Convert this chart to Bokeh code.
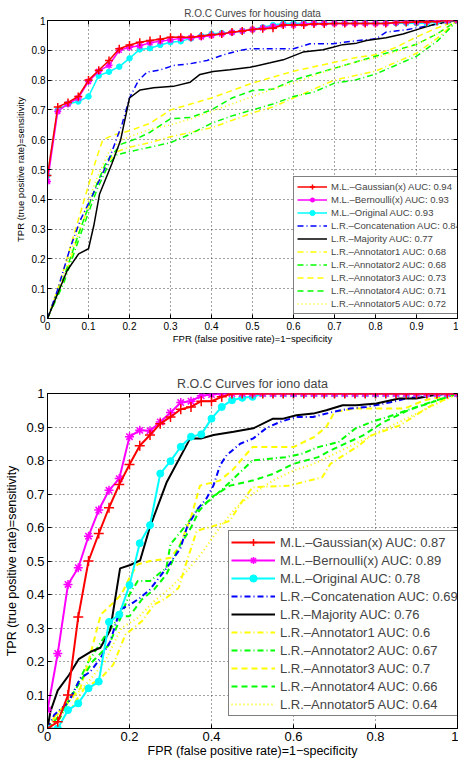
from bokeh.plotting import figure
from bokeh.layouts import column
from bokeh.models import Legend, LegendItem, FixedTicker, Range1d, LinearAxis
from bokeh.embed import file_html
from bokeh.resources import INLINE

FONT = "Liberation Sans"

# ---------------- data ----------------
FPR_STEP = [0, 0.025, 0.05, 0.075, 0.1, 0.125, 0.15, 0.175, 0.2, 0.225, 0.25, 0.275, 0.3, 0.325,
            0.35, 0.375, 0.4, 0.425, 0.45, 0.475, 0.5, 0.525, 0.55, 0.575, 0.6, 0.625, 0.65, 0.675,
            0.7, 0.725, 0.75, 0.775, 0.8, 0.825, 0.85, 0.875, 0.9, 0.925, 0.95, 0.975, 1.0]

TOP_X_TICKS = [0, 0.1, 0.2, 0.3, 0.4, 0.5, 0.6, 0.7, 0.8, 0.9, 1]
BOTTOM_X_TICKS = [0, 0.2, 0.4, 0.6, 0.8, 1]
Y_TICKS = [0, 0.1, 0.2, 0.3, 0.4, 0.5, 0.6, 0.7, 0.8, 0.9, 1]

# housing data
H_GAUSS = [0.48, 0.71, 0.725, 0.745, 0.80, 0.833, 0.866, 0.905, 0.918, 0.927, 0.933, 0.937, 0.944,
           0.944, 0.944, 0.948, 0.952, 0.955, 0.961, 0.965, 0.97, 0.972, 0.974, 0.985, 0.985, 0.985,
           0.988, 0.988, 0.99, 0.99, 0.99, 0.99, 0.99, 0.99, 0.993, 0.993, 0.995, 0.995, 0.997, 1.0, 1.0]
H_BERN = [0.46, 0.695, 0.72, 0.74, 0.795, 0.83, 0.85, 0.90, 0.91, 0.915, 0.925, 0.93, 0.935, 0.94,
          0.942, 0.945, 0.95, 0.955, 0.96, 0.965, 0.97, 0.975, 0.98, 0.985, 0.985, 0.988, 0.99, 0.99,
          0.99, 0.99, 0.99, 0.99, 0.99, 0.99, 0.993, 0.995, 0.995, 0.997, 1.0, 1.0, 1.0]
H_ORIG = [0.48, 0.70, 0.72, 0.728, 0.745, 0.815, 0.828, 0.845, 0.873, 0.903, 0.907, 0.918, 0.927,
          0.93, 0.94, 0.948, 0.955, 0.958, 0.96, 0.965, 0.97, 0.977, 0.985, 0.99, 0.991, 0.991, 0.991,
          0.991, 0.991, 0.991, 0.991, 0.991, 0.991, 0.991, 0.991, 0.991, 0.991, 0.991, 0.995, 0.998, 1.0]
H_CONC_X = [0, 0.024, 0.056, 0.08, 0.105, 0.149, 0.182, 0.2, 0.222, 0.243, 0.275, 0.307, 0.348,
            0.389, 0.437, 0.47, 0.494, 0.6, 0.64, 0.696, 0.74, 0.802, 0.826, 0.875, 0.932, 1.0]
H_CONC_Y = [0, 0.094, 0.24, 0.33, 0.40, 0.53, 0.653, 0.74, 0.799, 0.827, 0.834, 0.849, 0.855,
            0.866, 0.888, 0.9, 0.905, 0.905, 0.922, 0.922, 0.93, 0.939, 0.961, 0.969, 0.983, 1.0]
H_MAJ_X = [0, 0.048, 0.076, 0.1, 0.113, 0.127, 0.157, 0.178, 0.2, 0.226, 0.259, 0.307, 0.348, 0.372,
           0.404, 0.445, 0.494, 0.543, 0.575, 0.623, 0.672, 0.696, 0.72, 0.754, 0.778, 0.826, 0.867,
           0.907, 0.948, 1.0]
H_MAJ_Y = [0, 0.161, 0.217, 0.234, 0.312, 0.418, 0.519, 0.597, 0.74, 0.767, 0.774, 0.779, 0.793,
           0.819, 0.829, 0.835, 0.843, 0.858, 0.868, 0.894, 0.902, 0.91, 0.919, 0.924, 0.933, 0.942,
           0.955, 0.972, 0.989, 1.0]
H_A1_X = [0, 0.04, 0.08, 0.12, 0.15, 0.17, 0.2, 0.25, 0.3, 0.35, 0.4, 0.45, 0.5, 0.55, 0.6, 0.65,
          0.7, 0.75, 0.8, 0.85, 0.9, 0.95, 1]
H_A1_Y = [0, 0.13, 0.30, 0.45, 0.53, 0.56, 0.575, 0.59, 0.61, 0.625, 0.64, 0.665, 0.69, 0.71, 0.74,
          0.77, 0.80, 0.815, 0.83, 0.86, 0.89, 0.94, 1]
H_A2_X = [0, 0.04, 0.08, 0.12, 0.15, 0.17, 0.2, 0.25, 0.3, 0.35, 0.4, 0.45, 0.5, 0.55, 0.6, 0.65,
          0.7, 0.75, 0.8, 0.85, 0.9, 0.95, 1]
H_A2_Y = [0, 0.12, 0.28, 0.43, 0.52, 0.55, 0.56, 0.575, 0.59, 0.62, 0.655, 0.68, 0.70, 0.72, 0.745,
          0.76, 0.79, 0.80, 0.82, 0.85, 0.88, 0.93, 1]
H_A3_X = [0, 0.03, 0.06, 0.09, 0.12, 0.135, 0.16, 0.2, 0.25, 0.3, 0.35, 0.4, 0.45, 0.5, 0.55, 0.6,
          0.65, 0.7, 0.75, 0.8, 0.85, 0.9, 0.95, 1]
H_A3_Y = [0, 0.12, 0.26, 0.40, 0.54, 0.60, 0.615, 0.63, 0.655, 0.70, 0.72, 0.74, 0.765, 0.79, 0.81,
          0.83, 0.845, 0.86, 0.875, 0.885, 0.91, 0.945, 0.975, 1]
H_A4_X = [0, 0.04, 0.08, 0.12, 0.145, 0.18, 0.22, 0.25, 0.3, 0.35, 0.4, 0.45, 0.5, 0.55, 0.6, 0.65,
          0.7, 0.75, 0.8, 0.85, 0.9, 0.95, 1]
H_A4_Y = [0, 0.14, 0.30, 0.45, 0.53, 0.585, 0.605, 0.625, 0.67, 0.675, 0.70, 0.74, 0.765, 0.77, 0.80,
          0.82, 0.84, 0.86, 0.88, 0.90, 0.92, 0.955, 1]
H_A5_X = [0, 0.04, 0.08, 0.12, 0.15, 0.18, 0.22, 0.25, 0.3, 0.35, 0.4, 0.45, 0.5, 0.55, 0.6, 0.65,
          0.7, 0.75, 0.8, 0.85, 0.9, 0.95, 1]
H_A5_Y = [0, 0.15, 0.32, 0.47, 0.56, 0.60, 0.62, 0.635, 0.65, 0.67, 0.695, 0.72, 0.745, 0.77, 0.79,
          0.815, 0.84, 0.86, 0.875, 0.895, 0.92, 0.955, 1]
H_LABELS = ["M.L.–Gaussian(x) AUC: 0.94", "M.L.–Bernoulli(x) AUC: 0.93", "M.L.–Original AUC: 0.93",
            "L.R.–Concatenation AUC: 0.84", "L.R.–Majority AUC: 0.77", "L.R.–Annotator1 AUC: 0.68",
            "L.R.–Annotator2 AUC: 0.68", "L.R.–Annotator3 AUC: 0.73", "L.R.–Annotator4 AUC: 0.71",
            "L.R.–Annotator5 AUC: 0.72"]

# iono data
I_GAUSS = [0.0, 0.02, 0.10, 0.333, 0.50, 0.582, 0.659, 0.728, 0.788, 0.844, 0.876, 0.91, 0.93, 0.953,
           0.96, 0.977, 0.977, 0.99, 1.0, 1.0, 1.0, 1.0, 1.0, 1.0, 1.0, 1.0, 1.0, 1.0, 1.0, 1.0, 1.0,
           1.0, 1.0, 1.0, 1.0, 1.0, 1.0, 1.0, 1.0, 1.0, 1.0]
I_BERN = [0.055, 0.224, 0.43, 0.48, 0.574, 0.652, 0.711, 0.746, 0.871, 0.89, 0.889, 0.915, 0.943,
          0.973, 0.977, 0.993, 0.997, 1.0, 1.0, 1.0, 1.0, 1.0, 1.0, 1.0, 1.0, 1.0, 1.0, 1.0, 1.0, 1.0,
          1.0, 1.0, 1.0, 1.0, 1.0, 1.0, 1.0, 1.0, 1.0, 1.0, 1.0]
I_ORIG = [0.0, 0.0, 0.055, 0.075, 0.12, 0.14, 0.318, 0.34, 0.428, 0.553, 0.607, 0.761, 0.798, 0.841,
          0.871, 0.878, 0.925, 0.96, 0.98, 0.987, 0.99, 1.0, 1.0, 1.0, 1.0, 1.0, 1.0, 1.0, 1.0, 1.0,
          1.0, 1.0, 1.0, 1.0, 1.0, 1.0, 1.0, 1.0, 1.0, 1.0, 1.0]
I_CONC_X = [0, 0.016, 0.052, 0.08, 0.105, 0.129, 0.153, 0.177, 0.202, 0.226, 0.25, 0.291, 0.324,
            0.34, 0.364, 0.388, 0.405, 0.421, 0.437, 0.47, 0.502, 0.534, 0.567, 0.607, 0.648, 0.696,
            0.737, 0.778, 0.834, 0.875, 0.923, 0.99, 1]
I_CONC_Y = [0, 0.04, 0.08, 0.15, 0.17, 0.21, 0.26, 0.355, 0.37, 0.39, 0.415, 0.48, 0.537, 0.6, 0.652,
            0.687, 0.726, 0.786, 0.816, 0.85, 0.866, 0.897, 0.915, 0.93, 0.93, 0.945, 0.955, 0.96,
            0.973, 0.985, 0.993, 1.0, 1.0]
I_MAJ_X = [0, 0.007, 0.025, 0.052, 0.076, 0.105, 0.129, 0.153, 0.177, 0.202, 0.226, 0.25, 0.291,
           0.348, 0.376, 0.405, 0.454, 0.502, 0.55, 0.575, 0.607, 0.648, 0.68, 0.72, 0.753, 0.802,
           0.858, 0.899, 0.94, 0.972, 1.0]
I_MAJ_Y = [0, 0.05, 0.114, 0.159, 0.207, 0.229, 0.241, 0.294, 0.478, 0.488, 0.502, 0.602, 0.736,
           0.866, 0.866, 0.876, 0.886, 0.896, 0.925, 0.925, 0.935, 0.94, 0.95, 0.965, 0.965, 0.97,
           0.985, 0.985, 0.995, 1.0, 1.0]
I_A1_X = [0, 0.02, 0.06, 0.09, 0.13, 0.16, 0.19, 0.23, 0.26, 0.29, 0.32, 0.34, 0.364, 0.42, 0.445,
          0.47, 0.5, 0.59, 0.67, 0.69, 0.76, 0.79, 0.86, 0.93, 1]
I_A1_Y = [0, 0.04, 0.065, 0.12, 0.15, 0.19, 0.28, 0.32, 0.37, 0.39, 0.42, 0.50, 0.59, 0.61, 0.62,
          0.67, 0.72, 0.725, 0.75, 0.79, 0.845, 0.875, 0.905, 0.96, 1]
I_A2_X = [0, 0.03, 0.05, 0.07, 0.1, 0.145, 0.18, 0.2, 0.22, 0.25, 0.29, 0.3, 0.34, 0.37, 0.4, 0.44,
          0.5, 0.58, 0.62, 0.66, 0.71, 0.75, 0.79, 0.83, 0.9, 1]
I_A2_Y = [0, 0.03, 0.08, 0.125, 0.2, 0.285, 0.34, 0.40, 0.44, 0.44, 0.48, 0.55, 0.61, 0.66, 0.685,
          0.73, 0.80, 0.81, 0.82, 0.84, 0.855, 0.895, 0.915, 0.93, 0.96, 1]
I_A3_X = [0, 0.02, 0.05, 0.08, 0.1, 0.13, 0.16, 0.18, 0.2, 0.22, 0.25, 0.28, 0.3, 0.32, 0.35, 0.372,
          0.42, 0.45, 0.5, 0.55, 0.6, 0.65, 0.68, 0.7, 0.75, 0.8, 0.87, 0.92, 1]
I_A3_Y = [0, 0.04, 0.08, 0.12, 0.2, 0.34, 0.375, 0.40, 0.45, 0.49, 0.50, 0.505, 0.51, 0.54, 0.63,
          0.725, 0.74, 0.77, 0.84, 0.84, 0.84, 0.87, 0.90, 0.945, 0.955, 0.955, 0.955, 0.98, 1]
I_A4_X = [0, 0.03, 0.07, 0.11, 0.15, 0.18, 0.2, 0.23, 0.26, 0.29, 0.32, 0.35, 0.37, 0.4, 0.445, 0.5,
          0.55, 0.6, 0.66, 0.69, 0.77, 0.82, 0.88, 1]
I_A4_Y = [0, 0.04, 0.12, 0.2, 0.25, 0.335, 0.335, 0.385, 0.415, 0.46, 0.54, 0.6, 0.65, 0.69, 0.725,
          0.74, 0.76, 0.79, 0.81, 0.83, 0.875, 0.915, 0.95, 1]
I_A5_X = [0, 0.03, 0.06, 0.1, 0.14, 0.18, 0.22, 0.26, 0.3, 0.34, 0.38, 0.42, 0.46, 0.5, 0.55, 0.6,
          0.65, 0.7, 0.75, 0.8, 0.85, 0.9, 0.95, 1]
I_A5_Y = [0, 0.05, 0.09, 0.14, 0.2, 0.3, 0.33, 0.38, 0.42, 0.47, 0.53, 0.6, 0.66, 0.70, 0.74, 0.77,
          0.79, 0.82, 0.85, 0.88, 0.91, 0.94, 0.97, 1]
I_LABELS = ["M.L.–Gaussian(x) AUC: 0.87", "M.L.–Bernoulli(x) AUC: 0.89", "M.L.–Original AUC: 0.78",
            "L.R.–Concatenation AUC: 0.69", "L.R.–Majority AUC: 0.76", "L.R.–Annotator1 AUC: 0.6",
            "L.R.–Annotator2 AUC: 0.67", "L.R.–Annotator3 AUC: 0.7", "L.R.–Annotator4 AUC: 0.66",
            "L.R.–Annotator5 AUC: 0.64"]

X_LABEL = "FPR (false positive rate)=1−specificity"
Y_LABEL = "TPR (true positive rate)=sensitivity"

DASHED = "6 4"
DASHDOT = "6 3 1 3"
DOTTED = "1 3"


def style_axis(ax, fs_tick, fs_label, tick_standoff, label_standoff):
    ax.axis_line_color = "black"
    ax.major_tick_in = 4
    ax.major_tick_out = 0
    ax.minor_tick_line_color = None
    ax.major_label_text_font = FONT
    ax.major_label_text_font_size = fs_tick
    ax.major_label_text_color = "black"
    ax.axis_label_text_font = FONT
    ax.axis_label_text_font_size = fs_label
    ax.axis_label_text_font_style = "normal"
    ax.axis_label_text_color = "black"
    ax.major_label_standoff = tick_standoff
    ax.axis_label_standoff = label_standoff


def make_panel(title, height, xticks, sizes, borders, standoffs, data, labels, lw, msz,
               legend_cfg):
    fs_tick, fs_label, fs_title, fs_leg = sizes
    top, bottom = borders
    title_so, xt_so, xl_so, yt_so, yl_so = standoffs
    p = figure(width=458, height=height, x_range=Range1d(0, 1), y_range=Range1d(0, 1),
               output_backend="svg", toolbar_location=None, title=title,
               min_border_left=47, min_border_right=1, min_border_top=top,
               min_border_bottom=bottom)
    p.title.text_font = FONT
    p.title.text_font_size = fs_title
    p.title.text_font_style = "normal"
    p.title.align = "center"
    p.title.standoff = title_so
    p.title.offset = 0
    p.background_fill_color = "white"
    p.border_fill_color = "white"
    p.outline_line_color = "black"
    p.outline_line_width = 1

    p.xaxis.ticker = FixedTicker(ticks=xticks)
    p.yaxis.ticker = FixedTicker(ticks=Y_TICKS)
    p.xaxis.major_label_overrides = {0: "0", 1: "1"}
    p.yaxis.major_label_overrides = {0: "0", 1: "1"}
    style_axis(p.xaxis[0], fs_tick, fs_label, xt_so, xl_so)
    style_axis(p.yaxis[0], fs_tick, fs_label, yt_so, yl_so)
    p.xaxis.axis_label = X_LABEL
    p.yaxis.axis_label = Y_LABEL
    for g in (p.xgrid[0], p.ygrid[0]):
        g.grid_line_color = "#444444"
        g.grid_line_dash = DOTTED
        g.grid_line_width = 1

    # inward ticks on top and right edges (box style)
    for side, ticks in (("above", xticks), ("right", Y_TICKS)):
        ax = LinearAxis(ticker=FixedTicker(ticks=ticks), major_tick_in=4, major_tick_out=0,
                        minor_tick_line_color=None, axis_line_color=None,
                        major_label_text_alpha=0, major_label_text_font_size="1px",
                        major_label_standoff=0)
        p.add_layout(ax, side)

    (gy, by, oy, cx, cy, mx, my, a1, a2, a3, a4, a5) = data
    ann_styles = [("#ffff00", DASHDOT), ("#00ff00", DASHDOT), ("#ffff00", DASHED),
                  ("#00ff00", DASHED), ("#ffff00", DOTTED)]
    ann_r = []
    for (ax_, ay_), (col, dash) in zip((a1, a2, a3, a4, a5), ann_styles):
        ann_r.append(p.line(ax_, ay_, line_color=col, line_width=lw, line_dash=dash))
    rc = p.line(cx, cy, line_color="#0000ff", line_width=lw, line_dash=DASHDOT)
    rm = p.line(mx, my, line_color="black", line_width=lw)
    s_circ, s_ast, s_cross = msz
    lo = p.line(FPR_STEP, oy, line_color="#00ffff", line_width=lw)
    so = p.scatter(FPR_STEP, oy, marker="circle", size=s_circ, line_color="#00ffff",
                   fill_color="#00ffff")
    lb = p.line(FPR_STEP, by, line_color="#ff00ff", line_width=lw)
    sb = p.scatter(FPR_STEP, by, marker="asterisk", size=s_ast, line_color="#ff00ff",
                   line_width=1.5)
    lg = p.line(FPR_STEP, gy, line_color="#ff0000", line_width=lw)
    sg = p.scatter(FPR_STEP, gy, marker="cross", size=s_cross, line_color="#ff0000",
                   line_width=1.5)

    rends = [[lg, sg], [lb, sb], [lo, so], [rc], [rm]] + [[r] for r in ann_r]
    items = [LegendItem(label=lab, renderers=r) for lab, r in zip(labels, rends)]
    loc, gw, lh, pad, lso = legend_cfg
    leg = Legend(items=items, location=loc, label_text_font=FONT, label_text_font_size=fs_leg,
                 glyph_width=gw, glyph_height=lh, label_height=lh, label_standoff=lso,
                 spacing=0, padding=pad, margin=0, border_line_color="black",
                 border_line_width=1, background_fill_color="white", background_fill_alpha=1)
    p.add_layout(leg)
    return p


p1 = make_panel("R.O.C Curves for housing data", 370, TOP_X_TICKS,
                ("10px", "9.5px", "10px", "9.5px"), (20, 52), (3, 3, 0, 2, 3),
                (H_GAUSS, H_BERN, H_ORIG, H_CONC_X, H_CONC_Y, H_MAJ_X, H_MAJ_Y,
                 (H_A1_X, H_A1_Y), (H_A2_X, H_A2_Y), (H_A3_X, H_A3_Y), (H_A4_X, H_A4_Y),
                 (H_A5_X, H_A5_Y)),
                H_LABELS, 1.5, (5.5, 7, 8), ((246, 4), 30, 13, 3, 4))
p2 = make_panel("R.O.C Curves for iono data", 393, BOTTOM_X_TICKS,
                ("13px", "12.5px", "12.5px", "13px"), (23, 35), (5, 3, 0, 3, 4),
                (I_GAUSS, I_BERN, I_ORIG, I_CONC_X, I_CONC_Y, I_MAJ_X, I_MAJ_Y,
                 (I_A1_X, I_A1_Y), (I_A2_X, I_A2_Y), (I_A3_X, I_A3_Y), (I_A4_X, I_A4_Y),
                 (I_A5_X, I_A5_Y)),
                I_LABELS, 2, (7, 9, 10), ((181, 12), 44, 18, 2, 5))

layout = column(p1, p2, spacing=0)
open("out.html", "w").write(file_html(layout, INLINE))
